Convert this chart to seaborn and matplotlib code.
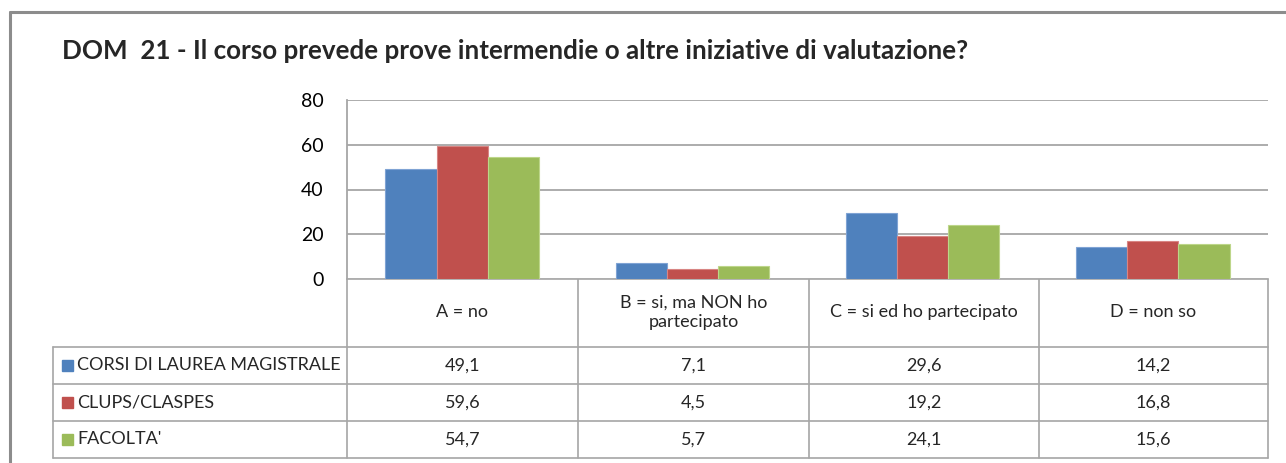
import matplotlib
matplotlib.use("Agg")
import matplotlib.pyplot as plt
import seaborn as sns
import pandas as pd
from matplotlib.lines import Line2D
from matplotlib.patches import Rectangle

categories = ["A = no", "B = si, ma NON ho\npartecipato", "C = si ed ho partecipato", "D = non so"]
series_names = ["CORSI DI LAUREA MAGISTRALE", "CLUPS/CLASPES", "FACOLTA'"]
corsi = [49.1, 7.1, 29.6, 14.2]
clups = [59.6, 4.5, 19.2, 16.8]
facolta = [54.7, 5.7, 24.1, 15.6]
yticks = [0, 20, 40, 60, 80]
title = "DOM  21 - Il corso prevede prove intermendie o altre iniziative di valutazione?"

colors = ["#4F81BD", "#C0504D", "#9BBB59"]
edge_colors = ["#7FA3D4", "#D88583", "#BDD68A"]

sns.set_style("white")
plt.rcParams['font.family'] = ['Lato', 'DejaVu Sans']

rows = []
for name, vals in zip(series_names, [corsi, clups, facolta]):
    for c, v in zip(categories, vals):
        rows.append({"cat": c, "val": v, "series": name})
df = pd.DataFrame(rows)

W, H = 1286, 463
fig = plt.figure(figsize=(W / 100, H / 100), dpi=100)

# overlay axes in pixel coordinates
ov = fig.add_axes([0, 0, 1, 1])
ov.set_xlim(0, W)
ov.set_ylim(H, 0)
ov.axis("off")

L, R, T, B = 347, 1268, 100, 279
ax = fig.add_axes([L / W, 1 - B / H, (R - L) / W, (B - T) / H])
sns.barplot(data=df, x="cat", y="val", hue="series", palette=colors,
            width=0.667, gap=0, ax=ax, legend=False, saturation=1)
for i, cont in enumerate(ax.containers):
    for p in cont:
        p.set_edgecolor(edge_colors[i])
        p.set_linewidth(0.8)
ax.set_xlim(-0.5, 3.5)
ax.set_ylim(0, 80)
ax.set_yticks(yticks)
ax.set_yticklabels([str(t) for t in yticks], fontsize=14)
ax.set_xticks([])
ax.set_xlabel("")
ax.set_ylabel("")
ax.yaxis.grid(True, color="#A6A6A6", linewidth=1.3)
ax.set_axisbelow(True)
for s in ["top", "right", "bottom"]:
    ax.spines[s].set_visible(False)
ax.spines["left"].set_color("#A6A6A6")
ax.spines["left"].set_linewidth(1.3)
ax.tick_params(axis="y", length=0, pad=17, colors="black")

# outer frame
ov.add_line(Line2D([10, W], [12, 12], color="#8C8C8C", lw=2.2))
ov.add_line(Line2D([10, 10], [12, H], color="#8C8C8C", lw=2.2))

# title
ov.text(62, 51, title, fontsize=18.7, fontweight="bold", ha="left", va="center")

# table
grid_c = "#A6A6A6"
xs = [347, 578, 809, 1039, 1268]
ys = [279, 347, 384, 421, 458]
lw = 1.2
for x in xs:
    ov.add_line(Line2D([x, x], [279, 458], color=grid_c, lw=lw))
ov.add_line(Line2D([53, 53], [347, 458], color=grid_c, lw=lw))
ov.add_line(Line2D([347, 1268], [279, 279], color=grid_c, lw=lw))
for y in ys[1:]:
    ov.add_line(Line2D([53, 1268], [y, y], color=grid_c, lw=lw))

fs = 13
for i, c in enumerate(categories):
    cx = (xs[i] + xs[i + 1]) / 2
    ov.text(cx, 312, c, fontsize=fs, ha="center", va="center", linespacing=1.25)

for r, (name, vals) in enumerate(zip(series_names, [corsi, clups, facolta])):
    cy = (ys[r + 1] + ys[r + 2]) / 2
    ov.add_patch(Rectangle((62, cy - 6), 11, 11, color=colors[r]))
    ov.text(77, cy, name, fontsize=fs, ha="left", va="center")
    for i, v in enumerate(vals):
        cx = (xs[i] + xs[i + 1]) / 2
        ov.text(cx, cy, f"{v:.1f}".replace(".", ","), fontsize=fs, ha="center", va="center")

fig.savefig("out.png", dpi=100)
